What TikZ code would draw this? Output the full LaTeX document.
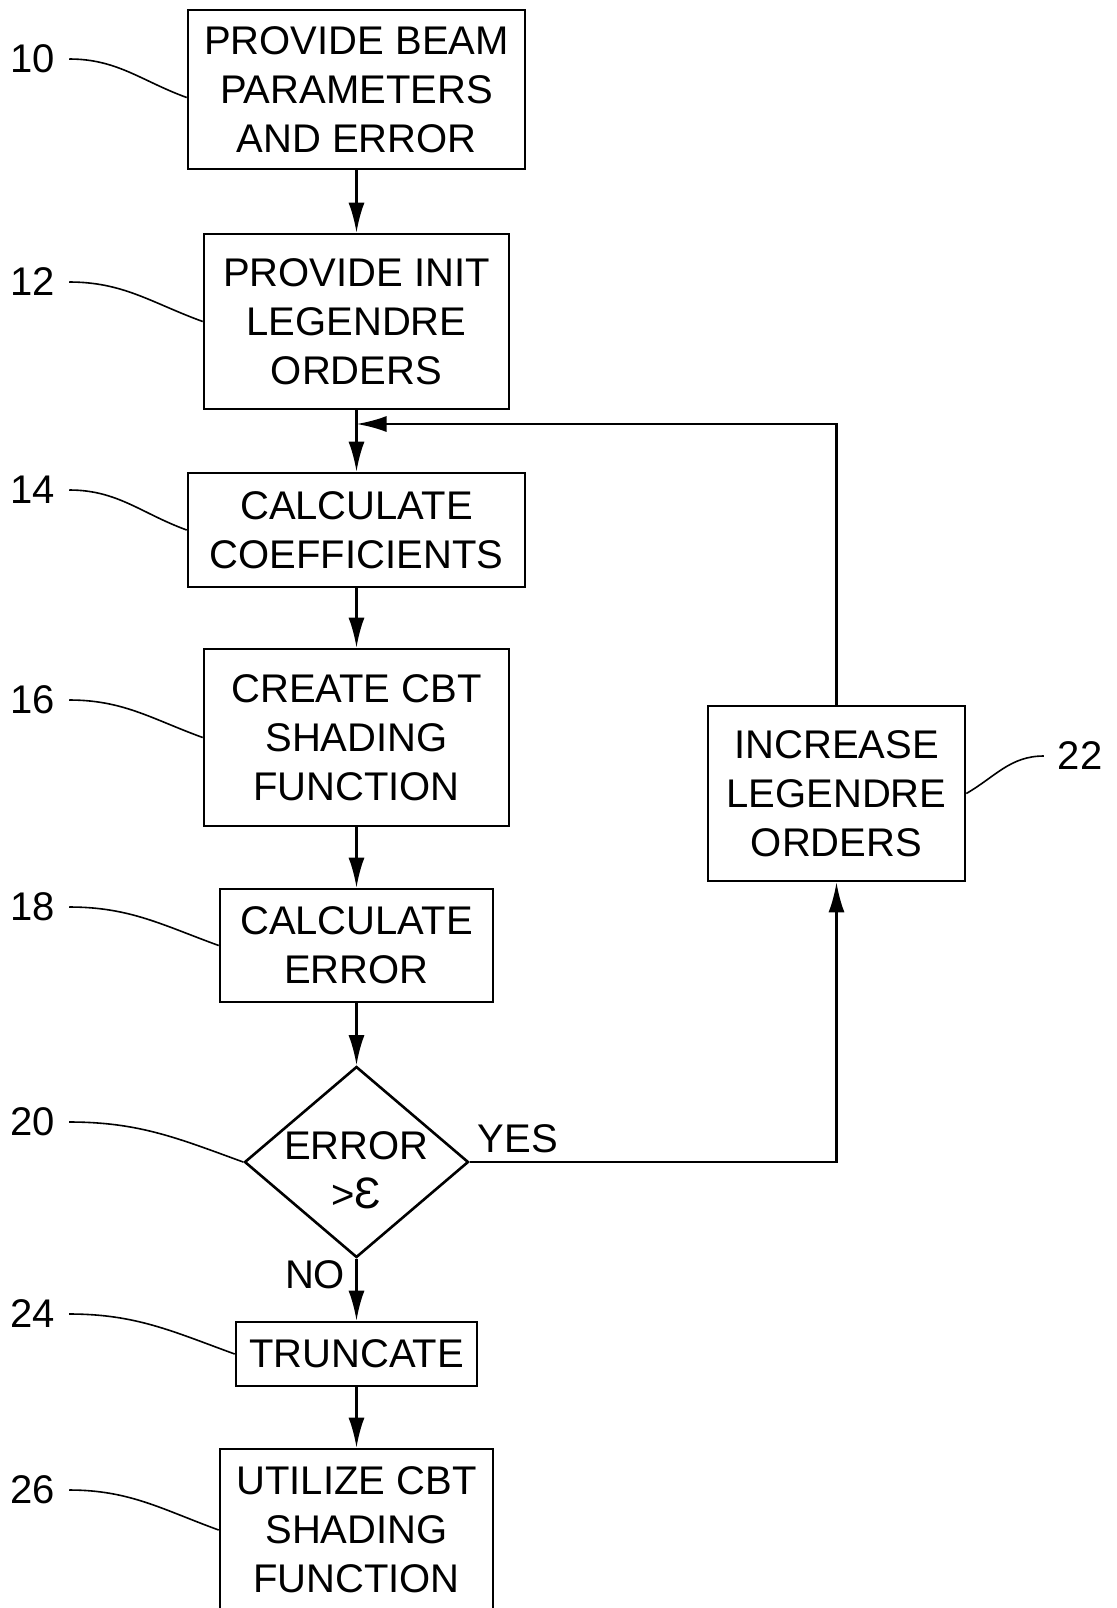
\documentclass[tikz,border=0pt]{standalone}
\usepackage{fontspec}
\setmainfont{Liberation Sans}
\usetikzlibrary{shapes.geometric,arrows.meta,positioning,calc}

\begin{document}
\begin{tikzpicture}[
    x=0.5pt,
    y=-0.5pt,
    font=\fontsize{20}{24.4}\selectfont,
    line width=1.3pt,
    stepbox/.style={draw, rectangle, align=center, inner sep=0pt},
    decision/.style={draw, diamond, inner sep=0pt},
    refnum/.style={inner sep=0pt, outer xsep=7pt},
    flow/.style={-{Latex[length=15pt,width=8pt]}},
    leader/.style={line width=0.8pt}
]
    \useasboundingbox (0,0) rectangle (1117,1608);

    % Main column
    \node[stepbox, minimum width=168.5pt, minimum height=79.5pt] (b10) at (356.5,89.5) {PROVIDE BEAM\\PARAMETERS\\AND ERROR};
    \node[stepbox, minimum width=152.5pt, minimum height=87.5pt] (b12) at (356.5,321.5) {PROVIDE INIT\\LEGENDRE\\ORDERS};
    \node[stepbox, minimum width=168.5pt, minimum height=57pt] (b14) at (356.5,530) {CALCULATE\\COEFFICIENTS};
    \node[stepbox, minimum width=152.5pt, minimum height=88.5pt] (b16) at (356.5,737.5) {CREATE CBT\\SHADING\\FUNCTION};
    \node[stepbox, minimum width=136.5pt, minimum height=56.5pt] (b18) at (356.5,945.5) {CALCULATE\\ERROR};
    \node[decision, minimum width=112pt, minimum height=95.5pt,
          label={[align=center, yshift=-4pt]center:{ERROR\\>{\fontsize{22}{24.4}\selectfont Ɛ}}}] (d20) at (356.5,1162) {};
    \node[stepbox, minimum width=120.5pt, minimum height=32pt] (b24) at (356.5,1354) {TRUNCATE};
    \node[stepbox, minimum width=136.5pt, minimum height=81pt] (b26) at (356.5,1530) {UTILIZE CBT\\SHADING\\FUNCTION};

    % Loop back
    \node[stepbox, minimum width=128.5pt, minimum height=87.5pt] (b22) at (836.5,793.5) {INCREASE\\LEGENDRE\\ORDERS};
    \coordinate (jn) at (356.5,424);

    % Branch labels
    \node[inner sep=0pt] (yes) at (518,1139) {YES};
    \node[inner sep=0pt] (no) at (315,1275) {NO};

    % Arrows
    \draw[flow] (b10) -- (b12);
    \draw[flow] (b12) -- (b14);
    \draw[flow] (b14) -- (b16);
    \draw[flow] (b16) -- (b18);
    \draw[flow] (b18) -- (d20);
    \draw[flow] (d20) -- (b24);
    \draw[flow] (b24) -- (b26);
    \draw[flow] (d20.east) -| (b22.south);
    \draw[flow] (b22.north) |- (jn);

    % Reference numerals
    \node[refnum] (n10) at (33,59) {10};
    \node[refnum] (n12) at (33,282) {12};
    \node[refnum] (n14) at (33,490) {14};
    \node[refnum] (n16) at (33,700) {16};
    \node[refnum] (n18) at (33,907) {18};
    \node[refnum] (n20) at (33,1122) {20};
    \node[refnum] (n24) at (33,1314) {24};
    \node[refnum] (n26) at (33,1490) {26};
    \node[refnum] (n22) at (1080,756) {22};

    \draw[leader] (n10.east) to[out=0,in=160] ([yshift=-4pt]b10.west);
    \draw[leader] (n12.east) to[out=0,in=160] (b12.west);
    \draw[leader] (n14.east) to[out=0,in=160] (b14.west);
    \draw[leader] (n16.east) to[out=0,in=160] (b16.west);
    \draw[leader] (n18.east) to[out=0,in=160] (b18.west);
    \draw[leader] (n20.east) to[out=0,in=160] (d20.west);
    \draw[leader] (n24.east) to[out=0,in=160] (b24.west);
    \draw[leader] (n26.east) to[out=0,in=160] (b26.west);
    \draw[leader] (b22.east) to[out=30,in=180] (n22.west);
\end{tikzpicture}
\end{document}
